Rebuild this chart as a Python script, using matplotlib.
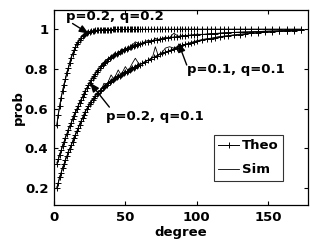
import matplotlib
matplotlib.use("Agg")
import matplotlib.pyplot as plt

# ---------------- data ----------------
deg_theo = [2, 3, 4, 5, 6, 7, 8, 9, 10, 11, 12, 13, 14, 15, 16, 17, 18, 19, 20,
            21, 22, 23, 24, 25, 26, 27, 28, 29, 30, 31, 32, 33, 34, 35, 36, 37, 38,
            39, 40, 41, 42, 43, 44, 45, 46, 47, 48, 49, 50, 51, 52, 53, 54, 55, 56,
            57, 58, 59, 60,
            62, 64, 66, 68, 70, 72, 74, 76, 78, 80, 82, 84, 86, 88, 90, 92, 94, 96,
            98, 100,
            104, 107, 110, 113, 116, 119, 122, 126, 130, 134, 138, 143, 148, 153,
            158, 163, 168, 173]

theo_pq22 = [0.52, 0.57, 0.615, 0.655, 0.69, 0.72, 0.75, 0.78, 0.805, 0.83, 0.855,
             0.875, 0.895, 0.91, 0.925, 0.938, 0.948, 0.957, 0.965, 0.971, 0.976,
             0.98, 0.984, 0.987, 0.989, 0.991, 0.993, 0.994, 0.995,
             0.9955, 0.996, 0.9965, 0.997, 0.997, 0.9975, 0.9975, 0.998, 0.998, 0.998,
             0.999, 0.999, 0.999, 0.999, 0.999, 0.999, 0.999, 0.999, 0.999, 0.999,
             0.999, 0.999, 0.999, 0.999, 0.999, 0.999, 0.999, 0.999, 0.999, 0.999,
             1.0, 1.0, 1.0, 1.0, 1.0, 1.0, 1.0, 1.0, 1.0, 1.0,
             1.0, 1.0, 1.0, 1.0, 1.0, 1.0, 1.0, 1.0, 1.0, 1.0,
             1.0, 1.0, 1.0, 1.0, 1.0, 1.0, 1.0, 1.0, 1.0, 1.0,
             1.0, 1.0, 1.0, 1.0, 1.0, 1.0, 1.0, 1.0]

theo_pq21 = [0.32, 0.345, 0.368, 0.39, 0.412, 0.433, 0.453, 0.473, 0.492, 0.511,
             0.529, 0.547, 0.564, 0.581, 0.598, 0.614, 0.630, 0.646, 0.661, 0.676,
             0.690, 0.704, 0.717, 0.730, 0.742, 0.754, 0.765, 0.776, 0.786,
             0.796, 0.805, 0.814, 0.822, 0.830, 0.836, 0.842, 0.848, 0.854, 0.859,
             0.864, 0.868, 0.873, 0.877, 0.881, 0.885, 0.889, 0.893, 0.896, 0.899,
             0.903, 0.906, 0.909, 0.911, 0.914, 0.917, 0.919, 0.921, 0.924, 0.926,
             0.930, 0.934, 0.938, 0.941, 0.944, 0.947, 0.950, 0.952, 0.955, 0.957,
             0.959, 0.961, 0.963, 0.964, 0.966, 0.967, 0.969, 0.970, 0.971, 0.972,
             0.974, 0.975, 0.977, 0.978, 0.979, 0.981, 0.982, 0.984, 0.985, 0.986,
             0.987, 0.988, 0.990, 0.991, 0.992, 0.993, 0.995, 0.996]

theo_pq11 = [0.200, 0.228, 0.254, 0.278, 0.300, 0.321, 0.341, 0.360, 0.380, 0.398,
             0.416, 0.434, 0.452, 0.469, 0.486, 0.503, 0.520, 0.537, 0.555, 0.570,
             0.585, 0.599, 0.612, 0.624, 0.635, 0.645, 0.655, 0.664, 0.672,
             0.680, 0.688, 0.695, 0.702, 0.709, 0.715, 0.721, 0.727, 0.733, 0.738,
             0.743, 0.748, 0.753, 0.758, 0.763, 0.767, 0.771, 0.775, 0.779, 0.783,
             0.787, 0.791, 0.795, 0.799, 0.803, 0.807, 0.811, 0.815, 0.819, 0.822,
             0.828, 0.836, 0.844, 0.852, 0.860, 0.867, 0.873, 0.879, 0.885, 0.890,
             0.896, 0.902, 0.908, 0.914, 0.919, 0.924, 0.928, 0.932, 0.936, 0.940,
             0.946, 0.950, 0.953, 0.957, 0.961, 0.964, 0.967, 0.970, 0.973, 0.976,
             0.979, 0.982, 0.985, 0.987, 0.989, 0.991, 0.993, 0.994]

deg_sim = [2, 3, 4, 5, 6, 7, 8, 9, 10,
           12, 14, 16, 18, 20, 22, 24, 26, 28, 30,
           33, 35, 37, 40, 42, 45, 47, 50, 52, 55, 57, 60, 63, 66, 69, 71, 73, 76,
           78, 81, 84, 87, 90, 95, 100, 105, 110, 115, 120, 130, 140, 150, 160, 173]

sim_pq22 = [0.51, 0.575, 0.61, 0.66, 0.685, 0.725, 0.745, 0.785, 0.80,
            0.86, 0.89, 0.93, 0.945, 0.967, 0.974, 0.985, 0.988, 0.994, 0.993,
            0.997, 0.996, 0.998, 0.999, 0.997, 0.999, 0.998, 1.0, 0.999, 0.998,
            1.0, 0.999, 1.0, 0.999, 1.0, 0.998, 1.0, 0.999, 1.0, 1.0, 0.999, 1.0,
            1.0, 1.0, 1.0, 1.0, 1.0, 1.0, 1.0, 1.0, 1.0, 1.0, 1.0, 1.0]

sim_pq21 = [0.33, 0.34, 0.375, 0.385, 0.418, 0.43, 0.458, 0.47, 0.497,
            0.525, 0.57, 0.595, 0.636, 0.657, 0.696, 0.714, 0.748, 0.762, 0.792,
            0.81, 0.835, 0.84, 0.862, 0.865, 0.885, 0.885, 0.905, 0.902, 0.92,
            0.937, 0.925, 0.935, 0.945, 0.94, 0.955, 0.948, 0.955, 0.96, 0.958,
            0.98, 0.965, 0.968, 0.97, 0.975, 0.974, 0.978, 0.98, 0.983, 0.985,
            0.988, 0.99, 0.993, 0.996]

sim_pq11 = [0.205, 0.225, 0.26, 0.274, 0.305, 0.318, 0.346, 0.357, 0.385,
            0.412, 0.457, 0.482, 0.525, 0.55, 0.59, 0.608, 0.64, 0.65, 0.678,
            0.69, 0.728, 0.718, 0.77, 0.748, 0.795, 0.77, 0.812, 0.79, 0.83,
            0.854, 0.82, 0.835, 0.845, 0.858, 0.912, 0.868, 0.885, 0.905, 0.912,
            0.905, 0.915, 0.92, 0.93, 0.942, 0.95, 0.955, 0.962, 0.966, 0.975,
            0.981, 0.986, 0.99, 0.994]

x_ticks = [0, 50, 100, 150]
y_ticks = [0.2, 0.4, 0.6, 0.8, 1.0]
y_tick_labels = ["0.2", "0.4", "0.6", "0.8", "1"]

labels = ["p=0.2, q=0.2", "p=0.1, q=0.1", "p=0.2, q=0.1"]

# ---------------- plot ----------------
plt.rcParams["font.family"] = "DejaVu Sans"
plt.rcParams["font.weight"] = "bold"
FS = 9.5

fig = plt.figure(figsize=(3.10, 2.48), dpi=100)
ax = fig.add_axes([54 / 310, 1 - 205 / 248, (308 - 54) / 310, (205 - 10) / 248])

theo_kw = dict(color="black", lw=0.7, marker="+", ms=5, mew=0.7)
sim_kw = dict(color="black", lw=0.6)

h_theo, = ax.plot(deg_theo, theo_pq22, **theo_kw)
ax.plot(deg_theo, theo_pq21, **theo_kw)
ax.plot(deg_theo, theo_pq11, **theo_kw)
h_sim, = ax.plot(deg_sim, sim_pq22, **sim_kw)
ax.plot(deg_sim, sim_pq21, **sim_kw)
ax.plot(deg_sim, sim_pq11, **sim_kw)

ax.set_xlim(0, 178)
ax.set_ylim(0.115, 1.097)
ax.set_xticks(x_ticks)
ax.set_yticks(y_ticks)
ax.set_yticklabels(y_tick_labels)
ax.tick_params(direction="in", length=3, width=0.8, top=True, right=True,
               labelsize=FS, pad=4)
for lab in ax.get_xticklabels() + ax.get_yticklabels():
    lab.set_fontweight("bold")
for s in ax.spines.values():
    s.set_linewidth(0.9)

ax.set_xlabel("degree", fontsize=FS, fontweight="bold", labelpad=2)
ax.set_ylabel("prob", fontsize=FS, fontweight="bold", labelpad=0)

arrow_kw = dict(arrowstyle="-|>,head_length=0.55,head_width=0.22", color="black",
                lw=1.0, shrinkA=0, shrinkB=0)

# annotation 1
ax.text(42.5, 1.066, labels[0], fontsize=FS, fontweight="bold", ha="center", va="center")
ax.annotate("", xy=(24.3, 0.978), xytext=(13.0, 1.029), arrowprops=arrow_kw)
# annotation 2
ax.text(127.5, 0.795, labels[1], fontsize=FS, fontweight="bold", ha="center", va="center")
ax.annotate("", xy=(87.1, 0.933), xytext=(93.0, 0.82), arrowprops=arrow_kw)
# annotation 3
ax.text(70.5, 0.56, labels[2], fontsize=FS, fontweight="bold", ha="center", va="center")
ax.annotate("", xy=(25.2, 0.731), xytext=(38.8, 0.608), arrowprops=arrow_kw)

leg = ax.legend([h_theo, h_sim], ["Theo", "Sim"], loc="lower right",
                bbox_to_anchor=(283.3 / 310, 1 - 181 / 248), bbox_transform=fig.transFigure,
                prop=dict(size=FS, weight="bold"), frameon=True, fancybox=False,
                handlelength=1.6, handletextpad=0.2, borderpad=0.35, labelspacing=0.85,
                borderaxespad=0)
leg.get_frame().set_edgecolor("black")
leg.get_frame().set_linewidth(0.8)

fig.savefig("out.png", dpi=100)
